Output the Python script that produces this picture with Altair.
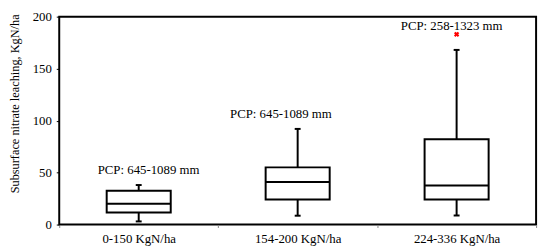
import altair as alt
import pandas as pd

categories = ["0-150 KgN/ha", "154-200 KgN/ha", "224-336 KgN/ha"]
whisker_low = [3, 8.5, 8.7]
q1 = [11.5, 24, 24]
median = [20, 41, 37.5]
q3 = [32.5, 55, 82]
whisker_high = [38, 92, 168]

outlier_cat = ["224-336 KgN/ha"]
outlier_val = [183]

label_cat = ["0-150 KgN/ha", "154-200 KgN/ha", "224-336 KgN/ha"]
label_text = ["PCP: 645-1089 mm", "PCP: 645-1089 mm", "PCP: 258-1323 mm"]
label_y = [52, 106, 191]
label_dx = [10, -17, -5]

box = pd.DataFrame({"cat": categories, "lo": whisker_low, "q1": q1,
                    "med": median, "q3": q3, "hi": whisker_high})
out = pd.DataFrame({"cat": outlier_cat, "v": outlier_val})

FONT = "Liberation Serif"

x = alt.X("cat:N", sort=categories, title=None,
          scale=alt.Scale(paddingInner=0, paddingOuter=0),
          axis=alt.Axis(labelAngle=0, labelFont=FONT, labelFontSize=13, labelColor="black",
                        tickBand="extent", tickSize=3, tickColor="#888", labelPadding=5,
                        domain=False))
yscale = alt.Scale(domain=[0, 200], nice=False)
yaxis = alt.Axis(values=[0, 50, 100, 150, 200], labelFont=FONT, labelFontSize=13,
                 labelColor="black", tickSize=3, tickColor="black", labelPadding=5,
                 grid=False, domain=False,
                 title="Subsurface nitrate leaching, KgN/ha", titleFont=FONT,
                 titleFontSize=12.5, titleFontWeight="normal", titleColor="black",
                 titleX=-45, titleY=88, titleAngle=-90, titleBaseline="middle",
                 titleAlign="center")

base = alt.Chart(box)
whisk = base.mark_rule(color="black", strokeWidth=2).encode(
    x=x, y=alt.Y("lo:Q", scale=yscale, axis=yaxis), y2="hi:Q")
bars = base.mark_bar(size=65, fill="white", stroke="black", strokeWidth=2).encode(
    x=x, y=alt.Y("q1:Q", scale=yscale), y2="q3:Q")
med = base.mark_tick(size=65, thickness=2, color="black", opacity=1).encode(
    x=x, y=alt.Y("med:Q", scale=yscale))
cap_lo = base.mark_tick(size=6, thickness=2, color="black", opacity=1).encode(
    x=x, y=alt.Y("lo:Q", scale=yscale))
cap_hi = base.mark_tick(size=6, thickness=2, color="black", opacity=1).encode(
    x=x, y=alt.Y("hi:Q", scale=yscale))
outl = alt.Chart(out).mark_point(shape="cross", angle=45, filled=True, color="red",
                                 size=30, opacity=1).encode(
    x=x, y=alt.Y("v:Q", scale=yscale))

layers = [whisk, bars, med, cap_lo, cap_hi, outl]
for c, t, yv, d in zip(label_cat, label_text, label_y, label_dx):
    df = pd.DataFrame({"cat": [c], "t": [t], "y": [yv]})
    layers.append(alt.Chart(df).mark_text(font=FONT, fontSize=13, color="black",
                                          dx=d, baseline="middle").encode(
        x=x, y=alt.Y("y:Q", scale=yscale), text="t:N"))

chart = alt.layer(*layers).properties(
    width=484, height=211,
    autosize=alt.AutoSizeParams(type="none"),
    padding={"left": 52, "top": 7, "right": 6, "bottom": 20},
).configure(background="white").configure_view(stroke="black", strokeWidth=2)

chart.save("out.html", embed_options={"renderer": "svg", "actions": False})
